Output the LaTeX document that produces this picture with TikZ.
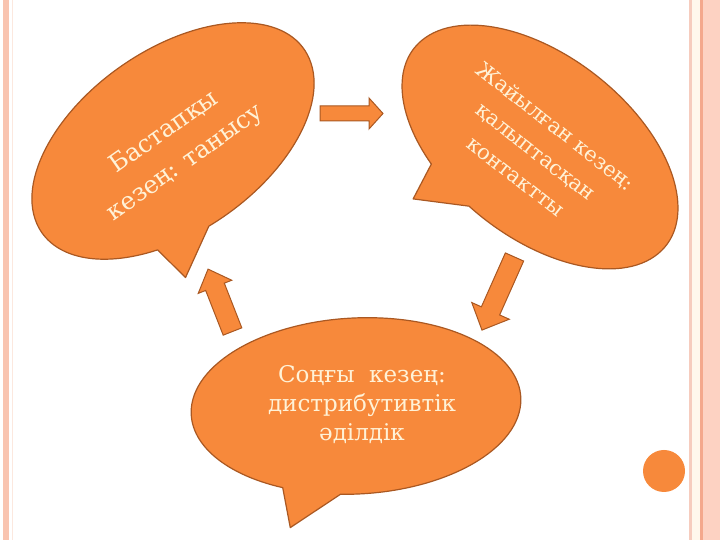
\documentclass[tikz,border=0pt]{standalone}
\usepackage{fontspec}
\setmainfont{DejaVu Serif}
\definecolor{bubfill}{RGB}{247,137,59}
\definecolor{bubline}{RGB}{170,88,34}
\definecolor{txtcream}{RGB}{255,242,215}
\definecolor{stripe}{RGB}{249,196,176}
\definecolor{stripefaint}{RGB}{252,232,222}
\definecolor{stripemid}{RGB}{246,204,190}
\definecolor{creamband}{RGB}{255,247,236}
\definecolor{stripedark}{RGB}{244,168,140}
\definecolor{stripelight}{RGB}{253,210,194}
\begin{document}
\begin{tikzpicture}[x=1pt,y=1pt,
  bubble/.style={fill=bubfill, draw=bubline, line width=1.2pt, line join=round},
  blockarrow/.style={fill=bubfill, draw=bubline, line width=1pt, line join=miter},
  txt/.style={text=txtcream, align=center, inner sep=0pt}]
\fill[white] (0,0) rectangle (720,540);
\useasboundingbox (0,0) rectangle (720,540);
% side bands
\fill[stripe] (3,0) rectangle (9,540);
\fill[stripefaint] (12,0) rectangle (13.2,540);
\fill[stripemid] (689,0) rectangle (691.5,540);
\fill[creamband] (691.5,0) rectangle (700,540);
\fill[stripedark] (700,0) rectangle (703,540);
\fill[stripelight] (703,0) rectangle (720,540);
% left bubble
\begin{scope}[shift={(173,399)}, rotate=35]
\path[bubble] (263:160 and 91) arc[start angle=263, end angle=602, x radius=160, y radius=91] -- (-68,-119) -- cycle;
\end{scope}
% right bubble
\begin{scope}[shift={(540,393)}, rotate=-38]
\path[bubble] (263:160 and 91) arc[start angle=263, end angle=602, x radius=160, y radius=91] -- (-68,-119) -- cycle;
\end{scope}
% bottom bubble
\begin{scope}[shift={(356,134)}, rotate=3]
\path[bubble] (263:165 and 88) arc[start angle=263, end angle=602, x radius=165, y radius=88] -- (-72,-118) -- cycle;
\end{scope}
% texts
\node[txt, rotate=35, font=\fontsize{24.5}{37}\selectfont] (tleft) at (175,392) {Бастапқы\\кезең: танысу};
\node[txt, rotate=-38, font=\fontsize{21}{32}\selectfont] (tright) at (536,389) {Жайылған кезең:\\қалыптасқан\\контактты};
\node[txt, font=\fontsize{23}{29}\selectfont] (tbottom) at (362,135) {Соңғы\ \ кезең:\\дистрибутивтік\\әділдік};
% block arrows
\begin{scope}[shift={(320,426.5)}]
\draw[blockarrow] (0,-7.5) -- (49,-7.5) -- (49,-15.5) -- (63,0) -- (49,15.5) -- (49,7.5) -- (0,7.5) -- cycle;
\end{scope}
\begin{scope}[shift={(232.5,208.5)}, rotate=111.4]
\draw[blockarrow] (0,-10) -- (48,-10) -- (48,-18) -- (67,0) -- (48,18) -- (48,10) -- (0,10) -- cycle;
\end{scope}
\begin{scope}[shift={(514.5,283)}, rotate=246]
\draw[blockarrow] (0,-10) -- (59,-10) -- (59,-20.5) -- (80,0) -- (59,20.5) -- (59,10) -- (0,10) -- cycle;
\end{scope}
% small dot
\fill[bubfill] (664,69) circle[radius=21];
\end{tikzpicture}
\end{document}
